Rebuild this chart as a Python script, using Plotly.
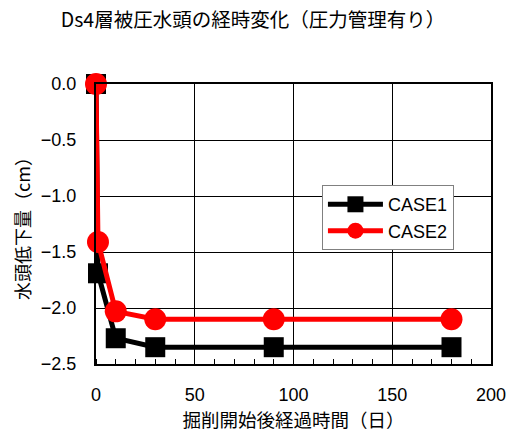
import plotly.graph_objects as go

days = [0, 1, 10, 30, 90, 180]
case1 = [0.0, -1.69, -2.27, -2.35, -2.35, -2.35]
case2 = [0.0, -1.41, -2.03, -2.10, -2.10, -2.10]
series_names = ["CASE1", "CASE2"]
y_ticks = [0.0, -0.5, -1.0, -1.5, -2.0, -2.5]
y_tick_labels = ["0.0", "−0.5", "−1.0", "−1.5", "−2.0", "−2.5"]
x_ticks = [0, 50, 100, 150, 200]
x_tick_labels = ["0", "50", "100", "150", "200"]

title_text = "Ds4層被圧水頭の経時変化（圧力管理有り）"
x_title = "掘削開始後経過時間（日）"
y_title = "水頭低下量（cm）"

FONT = "Liberation Sans, Arial, Noto Sans CJK JP"
CJK = "Noto Sans CJK JP, Liberation Sans"

fig = go.Figure()
fig.add_trace(go.Scatter(
    x=days, y=case1, name=series_names[0], mode="lines+markers",
    line=dict(color="black", width=5),
    marker=dict(symbol="square", size=20, color="black"),
    cliponaxis=False,
))
fig.add_trace(go.Scatter(
    x=days, y=case2, name=series_names[1], mode="lines+markers",
    line=dict(color="#ff0000", width=5),
    marker=dict(symbol="circle", size=22, color="#ff0000"),
    cliponaxis=False,
))

fig.update_layout(
    width=506, height=434,
    margin=dict(l=96, r=15, t=84, b=70, autoexpand=False),
    paper_bgcolor="white", plot_bgcolor="white",
    font=dict(family=FONT, size=18, color="black"),
    title=dict(text=title_text, x=0.5, xref="container", xanchor="center",
               y=1 - 20 / 434, yref="container", yanchor="middle",
               font=dict(family=CJK, size=19.5, color="black")),
    showlegend=True,
    legend=dict(x=0.572, y=0.639, xanchor="left", yanchor="top",
                bgcolor="white", bordercolor="#808080", borderwidth=1,
                font=dict(family=FONT, size=18, color="black"),
                itemwidth=55, tracegroupgap=2),
)

fig.update_xaxes(
    range=[0, 200], tickvals=x_ticks, ticktext=x_tick_labels,
    showgrid=True, gridcolor="black", gridwidth=1,
    showline=True, linecolor="black", linewidth=2, mirror=True,
    ticks="", zeroline=False, ticklabelstandoff=13, automargin=False,
    ticklabeloverflow="allow",
    minor=dict(dtick=10, ticks="inside", ticklen=5, tickcolor="black", tickwidth=1, showgrid=False),
    title=dict(text=x_title, font=dict(family=CJK, size=18.5, color="black"), standoff=10),
)
fig.update_yaxes(
    range=[-2.5, 0], tickvals=y_ticks, ticktext=y_tick_labels,
    showgrid=True, gridcolor="black", gridwidth=1,
    showline=True, linecolor="black", linewidth=2, mirror=True,
    ticks="", zeroline=False, ticklabelstandoff=14, automargin=False,
    title=dict(text=y_title, font=dict(family=CJK, size=18, color="black"), standoff=6),
)

fig.write_html("out.html", config={"displayModeBar": False},
               post_script="document.body.style.margin='0';document.body.style.overflow='hidden';")
